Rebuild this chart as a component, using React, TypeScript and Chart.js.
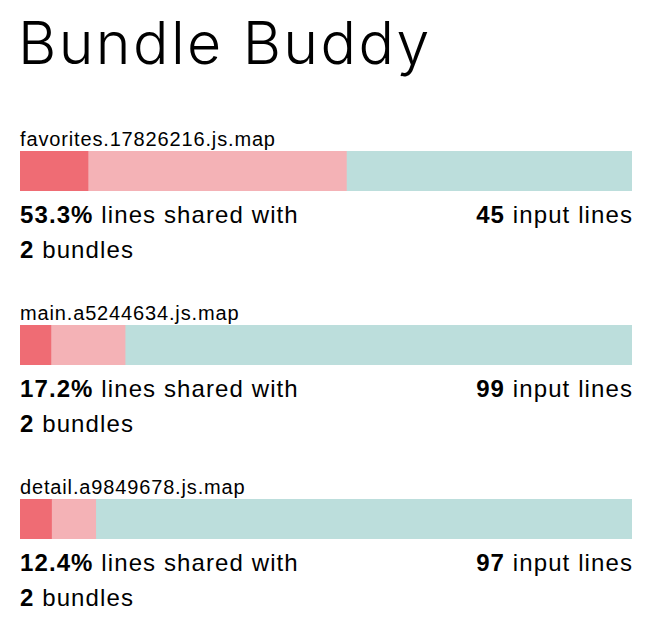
import React, { useEffect, useRef } from "react";
import { Chart, registerables } from "chart.js";

Chart.register(...registerables);

const bundleNames = ["favorites.17826216.js.map", "main.a5244634.js.map", "detail.a9849678.js.map"];
const inputLines = [45, 99, 97];
const sharedPct = ["53.3%", "17.2%", "12.4%"];
const sharedBundles = [2, 2, 2];
const heavyShared = [5, 5, 5];
const lightShared = [19, 12, 7];
const unshared = [21, 82, 85];

const COLORS = ["#EF6C74", "#F4B2B6", "#BCDEDC"];
const BODY_FONT = "'Liberation Sans', Arial, Helvetica, sans-serif";

function BundleBar({ index }: { index: number }) {
  const ref = useRef<HTMLCanvasElement | null>(null);
  useEffect(() => {
    if (!ref.current) return;
    const segs = [heavyShared[index], lightShared[index], unshared[index]];
    const total = inputLines[index];
    const chart = new Chart(ref.current, {
      type: "bar",
      data: {
        labels: [bundleNames[index]],
        datasets: segs.map((v, k) => ({
          data: [v],
          backgroundColor: COLORS[k],
          borderWidth: 0,
          barPercentage: 1,
          categoryPercentage: 1,
        })),
      },
      options: {
        indexAxis: "y",
        animation: false,
        responsive: false,
        maintainAspectRatio: false,
        devicePixelRatio: 1,
        layout: { padding: 0 },
        plugins: { legend: { display: false }, tooltip: { enabled: false }, title: { display: false } },
        scales: {
          x: { stacked: true, display: false, min: 0, max: total },
          y: { stacked: true, display: false },
        },
      },
    });
    return () => chart.destroy();
  }, [index]);
  return <canvas ref={ref} width={612} height={40} style={{ position: "absolute", left: 20, top: 151 + index * 174, width: 612, height: 40 }} />;
}

const labelStyle: React.CSSProperties = {
  position: "absolute",
  fontFamily: BODY_FONT,
  fontSize: 24,
  lineHeight: "24px",
  letterSpacing: "1.1px",
  color: "#000",
  whiteSpace: "nowrap",
  margin: 0,
};

function Block({ index }: { index: number }) {
  const off = index * 174;
  return (
    <>
      <div
        style={{
          position: "absolute",
          left: 20,
          top: 129 + off,
          fontFamily: BODY_FONT,
          fontSize: 20,
          lineHeight: "20px",
          letterSpacing: "0.85px",
          whiteSpace: "nowrap",
          color: "#000",
        }}
      >
        {bundleNames[index]}
      </div>
      <BundleBar index={index} />
      <div style={{ ...labelStyle, left: 20, top: 203 + off }}>
        <b>{sharedPct[index]}</b> lines shared with
      </div>
      <div style={{ ...labelStyle, left: 20, top: 238 + off }}>
        <b>{sharedBundles[index]}</b> bundles
      </div>
      <div style={{ ...labelStyle, right: 19, top: 203 + off }}>
        <b>{inputLines[index]}</b> input lines
      </div>
    </>
  );
}

export default function App() {
  return (
    <div style={{ position: "absolute", left: 0, top: 0, width: 652, height: 628, background: "#fff", overflow: "hidden" }}>
      <div
        style={{
          position: "absolute",
          left: 18,
          top: 13,
          fontFamily: "Inter, Roboto, 'Liberation Sans', sans-serif",
          fontWeight: 300,
          fontSize: 59,
          lineHeight: "60px",
          letterSpacing: "2.4px",
          whiteSpace: "nowrap",
          color: "#000",
        }}
      >
        Bundle Buddy
      </div>
      {[0, 1, 2].map((i) => (
        <Block key={i} index={i} />
      ))}
    </div>
  );
}
